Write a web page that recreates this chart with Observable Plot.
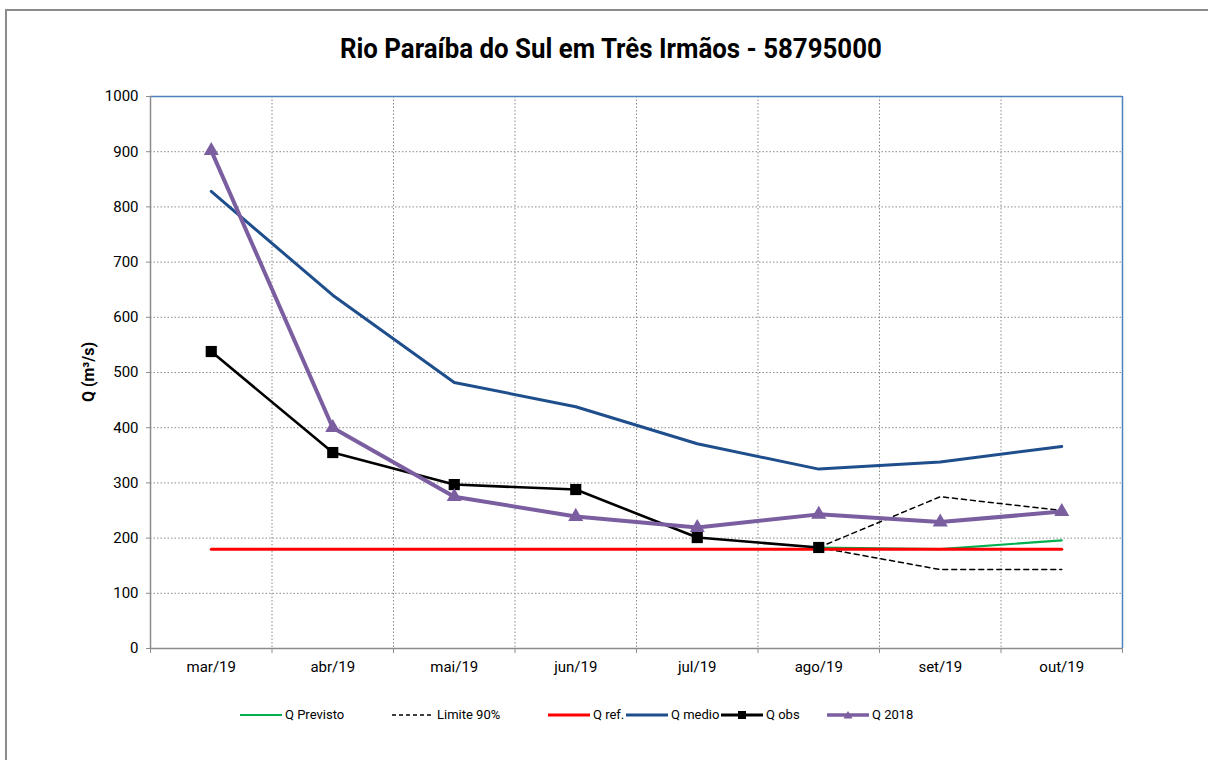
<!DOCTYPE html>
<html><head><meta charset="utf-8">
<script src="https://cdn.jsdelivr.net/npm/d3@7"></script>
<script src="https://cdn.jsdelivr.net/npm/@observablehq/plot@0.6"></script>
<style>
body{margin:0;background:#fff;font-family:Roboto,"Liberation Sans",sans-serif;}
#wrap{position:relative;width:1208px;height:760px;overflow:hidden;background:#fff;}
#frame{position:absolute;left:5px;top:9px;width:1300px;height:900px;border-top:2px solid #8c8c8c;border-left:2px solid #8c8c8c;box-sizing:border-box;}
#titlebox{position:absolute;top:33px;left:0;width:1222px;text-align:center;}
#title{display:inline-block;font-weight:bold;font-size:27px;color:#000;white-space:nowrap;transform-origin:center;}
#chart{position:absolute;left:0;top:80px;}
#ylab{position:absolute;left:88px;top:372px;transform:translate(-50%,-50%) rotate(-90deg);font-weight:bold;font-size:16px;white-space:nowrap;}
.leg{position:absolute;top:707px;display:flex;align-items:center;font-size:13px;color:#000;white-space:nowrap;}
.leg svg{margin-right:3px;}
</style>
</head><body>
<div id="wrap">
<div id="frame"></div>
<div id="titlebox"><span id="title">Rio Paraíba do Sul em Três Irmãos - 58795000</span></div>
<div id="chart"></div>
<div id="ylab">Q (m³/s)</div>
</div>
<script>
const months = ["mar/19","abr/19","mai/19","jun/19","jul/19","ago/19","set/19","out/19"];
const qMedio = [828,640,482,438,371,325,338,366];
const q2018 = [902,400,275,239,219,243,229,248];
const qObs = [538,355,297,288,201,183];
const qRef = [180,180,180,180,180,180,180,180];
const forecastMonths = ["ago/19","set/19","out/19"];
const qPrevisto = [183,180,196];
const limSup = [183,275,250];
const limInf = [183,143,143];
const yTicks = [0,100,200,300,400,500,600,700,800,900,1000];

const idx = m => months.indexOf(m);
const rows = (ms, vs) => vs.map((v,i) => ({x: idx(ms[i]), y: v}));
const medioRows = rows(months, qMedio);
const r2018 = rows(months, q2018);
const obsRows = rows(months, qObs);
const refRows = rows(months, qRef);
const prevRows = rows(forecastMonths, qPrevisto);
const supRows = rows(forecastMonths, limSup);
const infRows = rows(forecastMonths, limInf);
const bounds = d3.range(-0.5, months.length, 1);
const inner = bounds.slice(1, -1);

const C = {prev:"#00B050", ref:"#FF0000", medio:"#1F4E8C", obs:"#000000", y18:"#7B5EA0", grid:"#8a8a8a"};

const plot = Plot.plot({
  width: 1208, height: 600,
  marginLeft: 150, marginRight: 86, marginTop: 16, marginBottom: 32,
  style: {fontFamily: "Roboto, sans-serif", fontSize: "15px", color: "#000", background: "transparent"},
  x: {type: "linear", domain: [-0.5, months.length - 0.5], axis: null},
  y: {domain: [0, 1000], axis: null},
  marks: [
    Plot.ruleY(yTicks.slice(1, -1), {stroke: C.grid, strokeDasharray: "1.5,2", strokeWidth: 1}),
    Plot.ruleX(inner, {stroke: C.grid, strokeDasharray: "1.5,2", strokeWidth: 1}),
    Plot.ruleY([1000], {stroke: "#4F81BD", strokeWidth: 1.5}),
    Plot.ruleX([months.length - 0.5], {stroke: "#4F81BD", strokeWidth: 1.5}),
    Plot.ruleX([-0.5], {stroke: "#8c8c8c", strokeWidth: 1.5, y1: 0, y2: 1000}),
    Plot.ruleY([0], {stroke: "#8c8c8c", strokeWidth: 1.5}),
    Plot.axisX({ticks: bounds, tickSize: 5, tickFormat: () => "", stroke: "#8c8c8c", label: null}),
    Plot.axisX({ticks: d3.range(months.length), tickSize: 0, tickPadding: 13, tickFormat: i => months[i], label: null}),
    Plot.axisY({ticks: yTicks, tickSize: 4, tickPadding: 8, tickFormat: d => String(d), stroke: "#8c8c8c", label: null}),
    Plot.line(prevRows, {x: "x", y: "y", stroke: C.prev, strokeWidth: 2.2}),
    Plot.line(supRows, {x: "x", y: "y", stroke: "#000", strokeWidth: 1.5, strokeDasharray: "5,4"}),
    Plot.line(infRows, {x: "x", y: "y", stroke: "#000", strokeWidth: 1.5, strokeDasharray: "5,4"}),
    Plot.line(refRows, {x: "x", y: "y", stroke: C.ref, strokeWidth: 3}),
    Plot.line(medioRows, {x: "x", y: "y", stroke: C.medio, strokeWidth: 3}),
    Plot.line(obsRows, {x: "x", y: "y", stroke: C.obs, strokeWidth: 2.6}),
    Plot.dot(obsRows, {x: "x", y: "y", symbol: "square", r: 6.3, fill: C.obs, stroke: "none"}),
    Plot.line(r2018, {x: "x", y: "y", stroke: C.y18, strokeWidth: 4}),
    Plot.dot(r2018, {x: "x", y: "y", symbol: "triangle", r: 5.6, fill: C.y18, stroke: "none"})
  ]
});
document.getElementById("chart").appendChild(plot);

// title width fit
const t = document.getElementById("title");
const w = t.getBoundingClientRect().width;
t.style.transform = `scaleX(${542 / w})`;

// legend
const legendItems = [
  {label: "Q Previsto", color: C.prev, dash: null, marker: null, w: 2.2, left: 240},
  {label: "Limite 90%", color: "#000", dash: "4,3", marker: null, w: 1.5, left: 392},
  {label: "Q ref.", color: C.ref, dash: null, marker: null, w: 3, left: 548},
  {label: "Q medio", color: C.medio, dash: null, marker: null, w: 3, left: 626},
  {label: "Q obs", color: C.obs, dash: null, marker: "square", w: 3, left: 721},
  {label: "Q 2018", color: C.y18, dash: null, marker: "triangle", w: 3.5, left: 827}
];
const wrap = document.getElementById("wrap");
legendItems.forEach(it => {
  const d = document.createElement("div");
  d.className = "leg";
  d.style.left = it.left + "px";
  let m = "";
  if (it.marker === "square") m = `<rect x="17" y="3" width="8" height="8" fill="${it.color}"/>`;
  if (it.marker === "triangle") m = `<path d="M21,3 L25.5,10.5 L16.5,10.5 Z" fill="${it.color}"/>`;
  d.innerHTML = `<svg width="42" height="14"><line x1="0" x2="42" y1="7" y2="7" stroke="${it.color}" stroke-width="${it.w}" ${it.dash ? `stroke-dasharray="${it.dash}"` : ""}/>${m}</svg><span>${it.label}</span>`;
  wrap.appendChild(d);
});
</script>
</body></html>
